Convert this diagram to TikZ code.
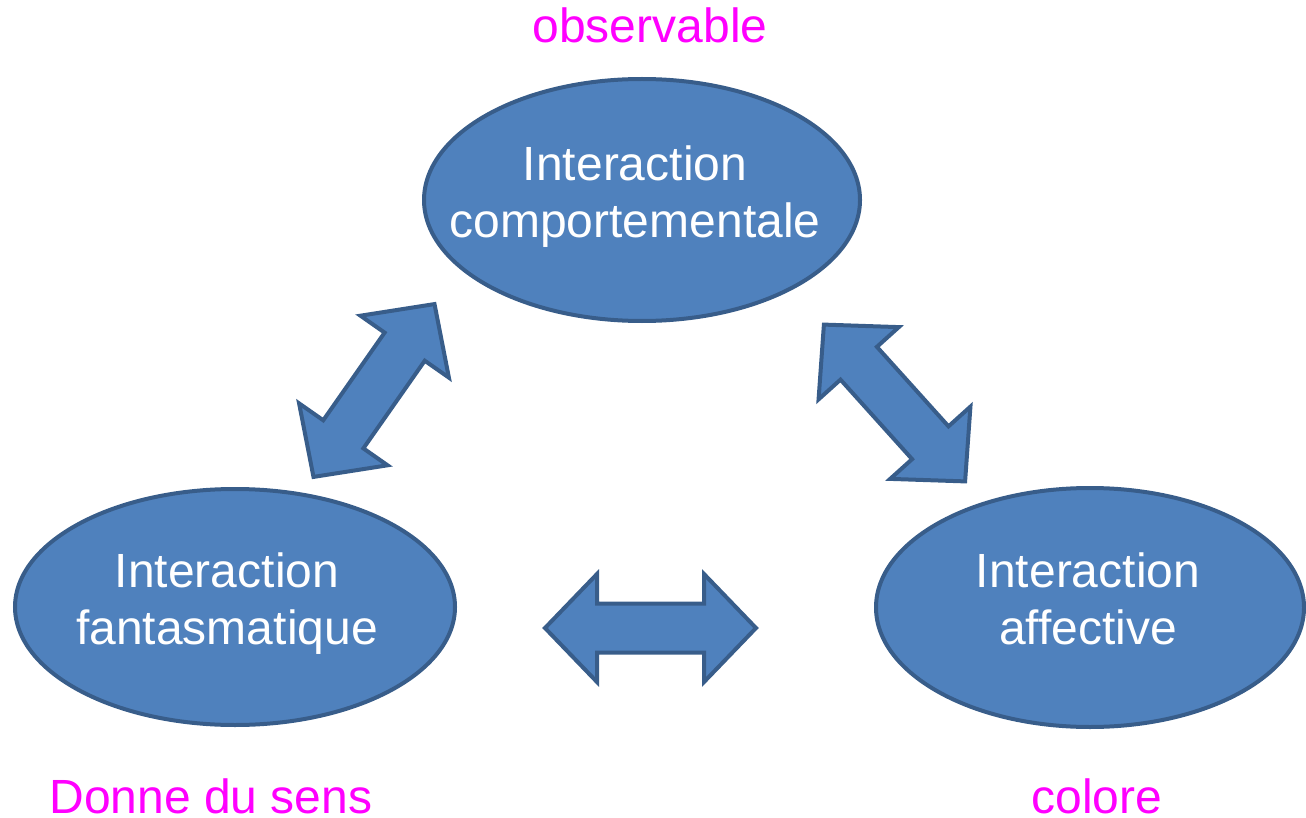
\documentclass[tikz,border=0pt]{standalone}
\usepackage{fontspec}
\setmainfont{Liberation Sans}
\usepackage{xcolor}
\usetikzlibrary{shapes.geometric}
\definecolor{ovalfill}{HTML}{4F81BD}
\definecolor{ovalline}{HTML}{385D8A}
\definecolor{notecol}{HTML}{FF00FF}
\newcommand{\bigfont}{\fontsize{24pt}{28.5pt}\selectfont}
\newcommand{\dblarrow}[2]{%
  \begin{scope}[shift={#1},rotate=#2]
    \draw[barrow] (-105.5,0) -- (-53.5,54) -- (-53.5,24.5) -- (53.5,24.5) -- (53.5,54)
      -- (105.5,0) -- (53.5,-54) -- (53.5,-24.5) -- (-53.5,-24.5) -- (-53.5,-54) -- cycle;
  \end{scope}}

\begin{document}
\begin{tikzpicture}[x=0.5pt,y=-0.5pt]
        \tikzstyle{oval} = [ellipse, draw=ovalline, fill=ovalfill, line width=2pt, inner sep=0pt]
        \tikzstyle{intext} = [text=white, font=\bigfont, align=center, inner sep=0pt]
        \tikzstyle{note} = [text=notecol, font=\bigfont, inner sep=0pt, anchor=base]
        \tikzstyle{barrow} = [draw=ovalline, fill=ovalfill, line width=2pt]

        \useasboundingbox (0,0) rectangle (1306,818);

        % Nodes
        \node[oval, minimum width=218pt, minimum height=121pt] (comp) at (642,200) {};
        \node[oval, minimum width=220pt, minimum height=118pt] (fant) at (235,607) {};
        \node[oval, minimum width=214pt, minimum height=119.5pt] (affe) at (1090,607.5) {};
        \node[intext] (tcomp) at (635,196.5) {Interaction\\comportementale};
        \node[intext] (tfant) at (227,603.5) {Interaction\\fantasmatique};
        \node[intext] (taffe) at (1088,598.5) {Interaction\\affective};

        % Notes
        \node[note] (obs) at (650,43) {observable};
        \node[note] (sens) at (211,813) {Donne du sens};
        \node[note] (colo) at (1097,813) {colore};

        % Arrows
        \dblarrow{(374,390.5)}{55}
        \dblarrow{(894.5,403)}{-48}
        \dblarrow{(650.5,628)}{0}
    \end{tikzpicture}
\end{document}
